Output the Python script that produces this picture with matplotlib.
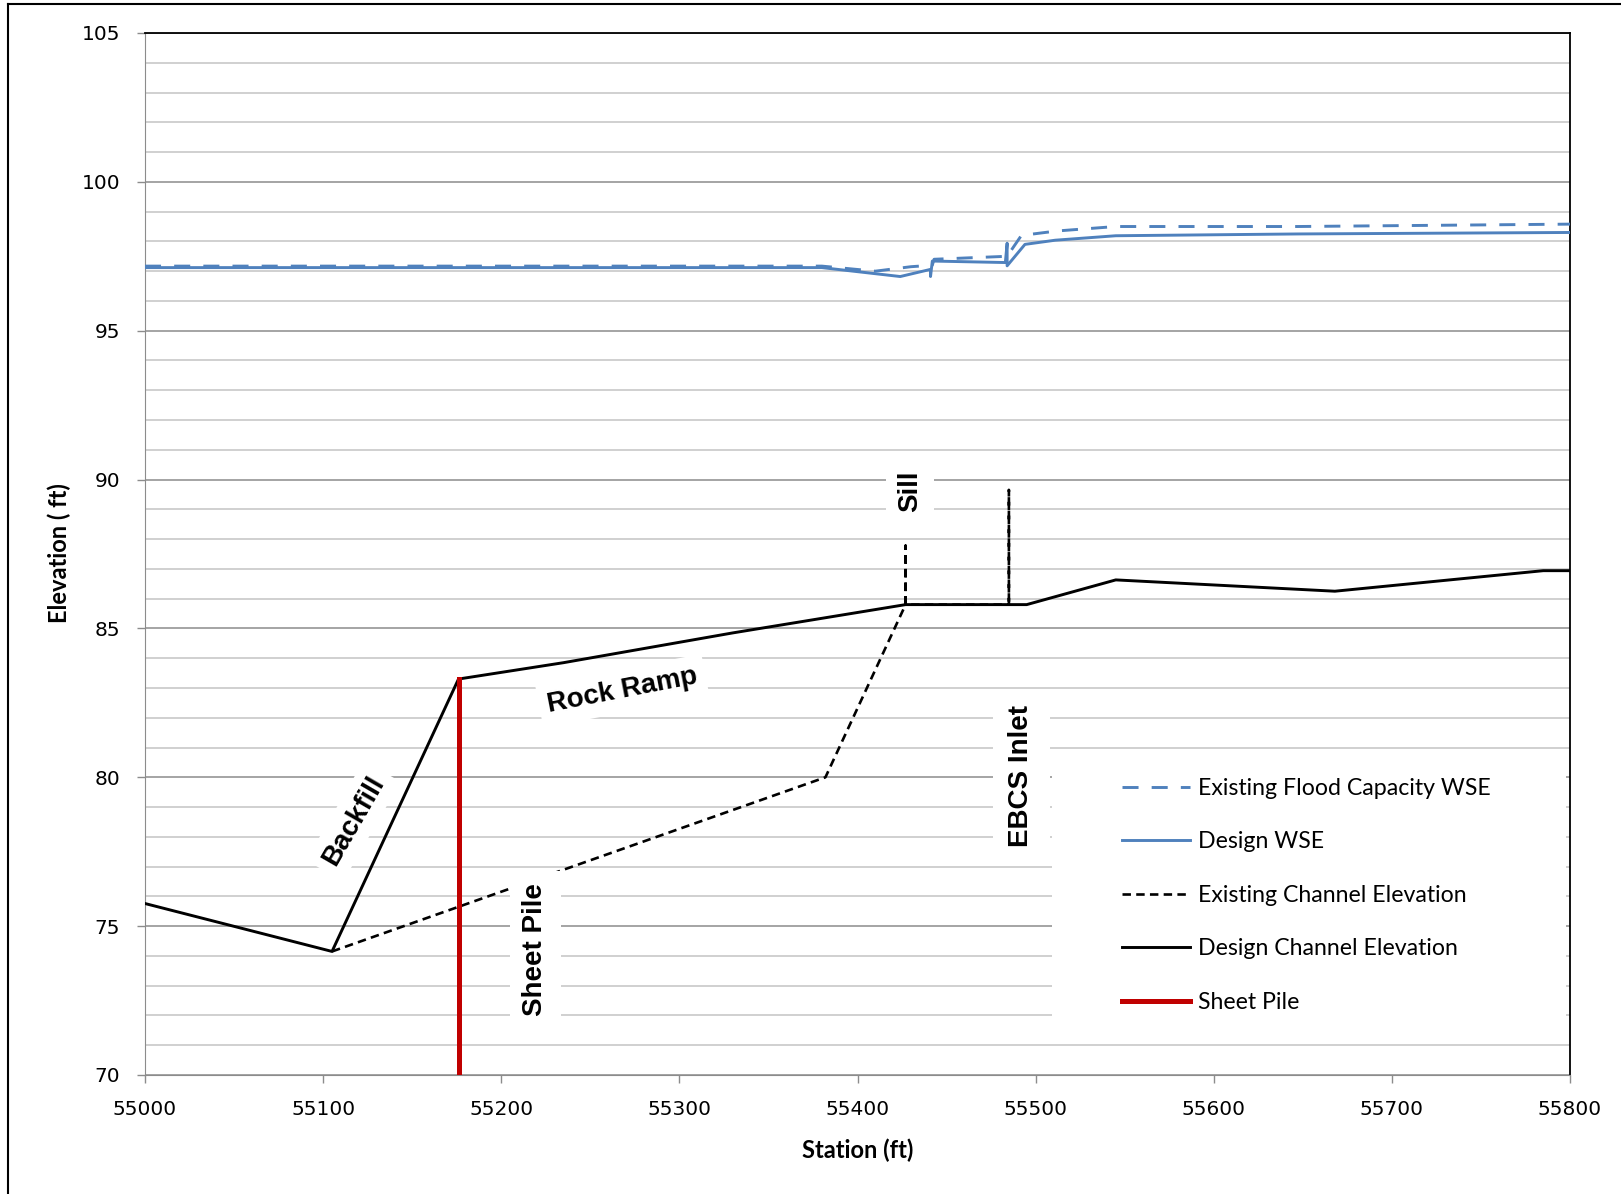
import numpy as np
import matplotlib
matplotlib.use("Agg")
import matplotlib.pyplot as plt
from matplotlib.lines import Line2D
from matplotlib.patches import Rectangle
from matplotlib.ticker import MultipleLocator

# station (ft) / elevation (ft) profiles
design_ch_x = [55000, 55105, 55176, 55235, 55330, 55427, 55495, 55545, 55668, 55785, 55800]
design_ch_y = [75.76, 74.15, 83.3, 83.85, 84.85, 85.8, 85.8, 86.63, 86.25, 86.94, 86.94]

exist_ch_x = [55105, 55382, 55427, 55427, 55427, 55485, 55485, 55485]
exist_ch_y = [74.15, 80.0, 85.8, 87.78, 85.8, 85.8, 89.65, 85.8]

design_wse_x = [55000, 55380, 55424, 55441, 55441, 55442, 55483, 55484, 55484, 55494, 55511, 55545, 55647, 55800]
design_wse_y = [97.12, 97.12, 96.82, 97.06, 96.82, 97.34, 97.29, 97.94, 97.18, 97.9, 98.04, 98.19, 98.25, 98.3]

exist_wse_x = [55000, 55380, 55410, 55430, 55442, 55443, 55484, 55492, 55512, 55545, 55647, 55800]
exist_wse_y = [97.17, 97.17, 97.0, 97.15, 97.2, 97.4, 97.5, 98.2, 98.35, 98.5, 98.5, 98.58]

sheet_pile_x = [55176, 55176]
sheet_pile_y = [70.0, 83.3]

labels = ["Existing Flood Capacity WSE", "Design WSE", "Existing Channel Elevation",
          "Design Channel Elevation", "Sheet Pile"]

W, H = 1621, 1194
fig = plt.figure(figsize=(W / 100, H / 100), dpi=100)
ax = fig.add_axes([145 / W, 1 - 1075 / H, (1570 - 145) / W, (1075 - 33) / H])

blue = "#4F81BD"
l1, = ax.plot(exist_wse_x, exist_wse_y, color=blue, lw=2.1, dashes=(5.5, 4.5), zorder=3)
l2, = ax.plot(design_wse_x, design_wse_y, color=blue, lw=2.1, zorder=3)
l3, = ax.plot(exist_ch_x, exist_ch_y, color="black", lw=1.9, dashes=(3.2, 2.0), zorder=3)
l4, = ax.plot(design_ch_x, design_ch_y, color="black", lw=2.1, zorder=3)
l5, = ax.plot(sheet_pile_x, sheet_pile_y, color="#C00000", lw=3.6, zorder=4)

ax.set_xlim(55000, 55800)
ax.set_ylim(70, 105)
ax.xaxis.set_major_locator(MultipleLocator(100))
ax.yaxis.set_major_locator(MultipleLocator(5))
ax.yaxis.set_minor_locator(MultipleLocator(1))
ax.set_axisbelow(True)
ax.grid(which="major", axis="y", color="#8c8c8c", lw=1.1)
ax.grid(which="minor", axis="y", color="#c4c4c4", lw=1.1)
ax.tick_params(which="major", direction="out", length=6, width=1, color="#8c8c8c",
               labelsize=14.5, pad=12)
ax.tick_params(axis="y", which="minor", length=0)
for s in ["left", "bottom"]:
    ax.spines[s].set_color("#8c8c8c")
for s in ["top", "right"]:
    ax.spines[s].set_color("black")
    ax.spines[s].set_linewidth(1.3)

ax.set_xlabel("Station (ft)", family=["Lato", "DejaVu Sans"], fontweight="bold",
              fontsize=17, labelpad=14)
fig.text(59 / W, 1 - 553 / H, "Elevation ( ft)", rotation=90, ha="center", va="center",
         family=["Lato", "DejaVu Sans"], fontweight="bold", fontsize=17)

# annotation text with white boxes
font = dict(family=["Liberation Sans", "DejaVu Sans"], fontweight="bold", fontsize=20,
            ha="center", va="center", zorder=6)
ax.text(55117, 78.53, "Backfill", rotation=60,
        bbox=dict(boxstyle="square,pad=0.3", fc="white", ec="none"), **font)
ax.text(55268, 82.9, "Rock Ramp", rotation=11,
        bbox=dict(boxstyle="square,pad=0.3", fc="white", ec="none"), **font)
ax.text(55219, 74.2, "Sheet Pile", rotation=90,
        bbox=dict(boxstyle="square,pad=0.45", fc="white", ec="none"), **font)
ax.text(55429.5, 89.6, "Sill", rotation=90,
        bbox=dict(boxstyle="square,pad=0.4", fc="white", ec="none"), **font)
ax.text(55492, 80.05, "EBCS Inlet", rotation=90,
        bbox=dict(boxstyle="square,pad=0.55", fc="white", ec="none"), **font)

# legend on a white patch
ax.add_patch(Rectangle((55509, 71.5), 289, 8.9, fc="white", ec="none", zorder=1.5))
leg = ax.legend([l1, l2, l3, l4, l5], labels, loc="upper left",
                bbox_to_anchor=(1122 / W, 1 - 778 / H), bbox_transform=fig.transFigure,
                frameon=False, borderpad=0, borderaxespad=0, handlelength=2.95,
                handletextpad=0.33, labelspacing=1.4,
                prop=dict(family=["Lato", "DejaVu Sans"], size=16.7))
leg.set_zorder(7)

# outer chart border
fig.add_artist(Line2D([8 / W, 8 / W], [0, 1 - 4 / H], color="black", lw=1.5))
fig.add_artist(Line2D([8 / W, 1], [1 - 4 / H, 1 - 4 / H], color="black", lw=1.5))

fig.savefig("out.png", dpi=100, facecolor="white")
